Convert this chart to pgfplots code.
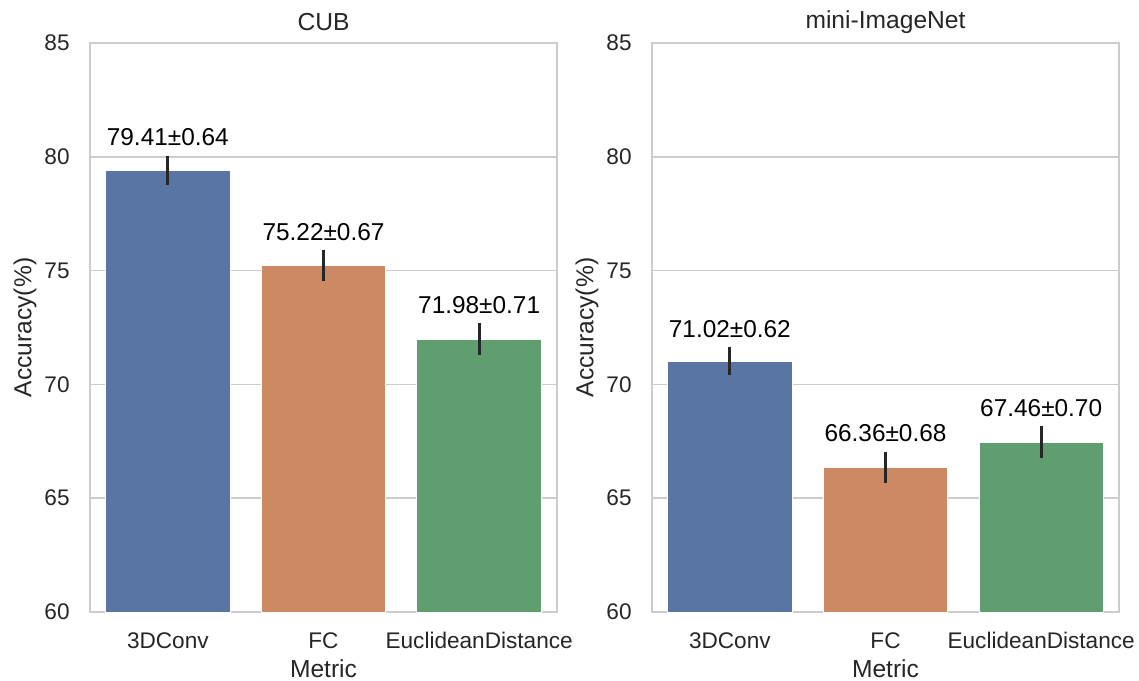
\documentclass[border=0pt]{standalone}
\usepackage{pgfplots}
\pgfplotsset{compat=1.18}
\usepackage{fontspec}
\setmainfont{Liberation Sans}
\definecolor{cblue}{HTML}{5875A4}
\definecolor{corange}{HTML}{CC8963}
\definecolor{cgreen}{HTML}{5F9E6E}
\definecolor{spine}{HTML}{CCCCCC}
\definecolor{txt}{HTML}{262626}
\tikzset{ann/.style={anchor=base, inner sep=0pt, yshift=5pt, font=\fontsize{12.2}{14}\selectfont, text=black}}
\pgfplotsset{
  myaxis/.style={
    scale only axis, width=233.5pt, height=284.5pt,
    anchor=south west,
    xmin=-0.5, xmax=2.5, ymin=60, ymax=85,
    ytick={60,65,70,75,80,85},
    xtick={0,1,2}, xticklabels={3DConv,FC,EuclideanDistance},
    major tick length=0pt,
    ymajorgrids, grid style={spine, line width=0.8pt},
    axis line style={spine, line width=0.8pt},
    /pgf/number format/assume math mode=true,
    tick label style={font=\fontsize{11.3}{13}\selectfont, text=txt},
    xticklabel style={anchor=center, inner sep=0pt, yshift=-14.4pt},
    yticklabel style={anchor=east, inner sep=0pt, xshift=-10pt},
    every axis x label/.style={at={(axis description cs:0.5,-0.1)}, anchor=center, font=\fontsize{12.3}{14}\selectfont, text=txt},
    every axis y label/.style={at={(axis description cs:-0.139,0.5)}, rotate=90, anchor=center, font=\fontsize{12.3}{14}\selectfont, text=txt},
    every axis title/.style={at={(axis description cs:0.5,1.037)}, anchor=center, font=\fontsize{12.3}{14}\selectfont, text=txt},
    xlabel={Metric}, ylabel={Accuracy(\%)},
    ybar, bar width=0.8, bar shift=0pt,
    every axis plot/.append style={draw=white, line width=0.4pt},
    error bars/y dir=both, error bars/y explicit, error bars/error mark=none,
    error bars/error bar style={line width=1.35pt, color=txt},
  },
}
\begin{document}
\begin{tikzpicture}
\useasboundingbox (-45pt,-34pt) rectangle (524.5pt,306pt);
\begin{axis}[myaxis, at={(0pt,0pt)}, title={CUB}]
\addplot[fill=cblue] coordinates {(0,79.41) +- (0,0.64)};
\addplot[fill=corange] coordinates {(1,75.22) +- (0,0.67)};
\addplot[fill=cgreen] coordinates {(2,71.98) +- (0,0.71)};
\node[ann] at (axis cs:0,80.05) {79.41±0.64};
\node[ann] at (axis cs:1,75.89) {75.22±0.67};
\node[ann] at (axis cs:2,72.69) {71.98±0.71};
\end{axis}
\begin{axis}[myaxis, at={(281pt,0pt)}, title={mini-ImageNet}]
\addplot[fill=cblue] coordinates {(0,71.02) +- (0,0.62)};
\addplot[fill=corange] coordinates {(1,66.36) +- (0,0.68)};
\addplot[fill=cgreen] coordinates {(2,67.46) +- (0,0.70)};
\node[ann] at (axis cs:0,71.64) {71.02±0.62};
\node[ann] at (axis cs:1,67.04) {66.36±0.68};
\node[ann] at (axis cs:2,68.16) {67.46±0.70};
\end{axis}
\end{tikzpicture}
\end{document}
